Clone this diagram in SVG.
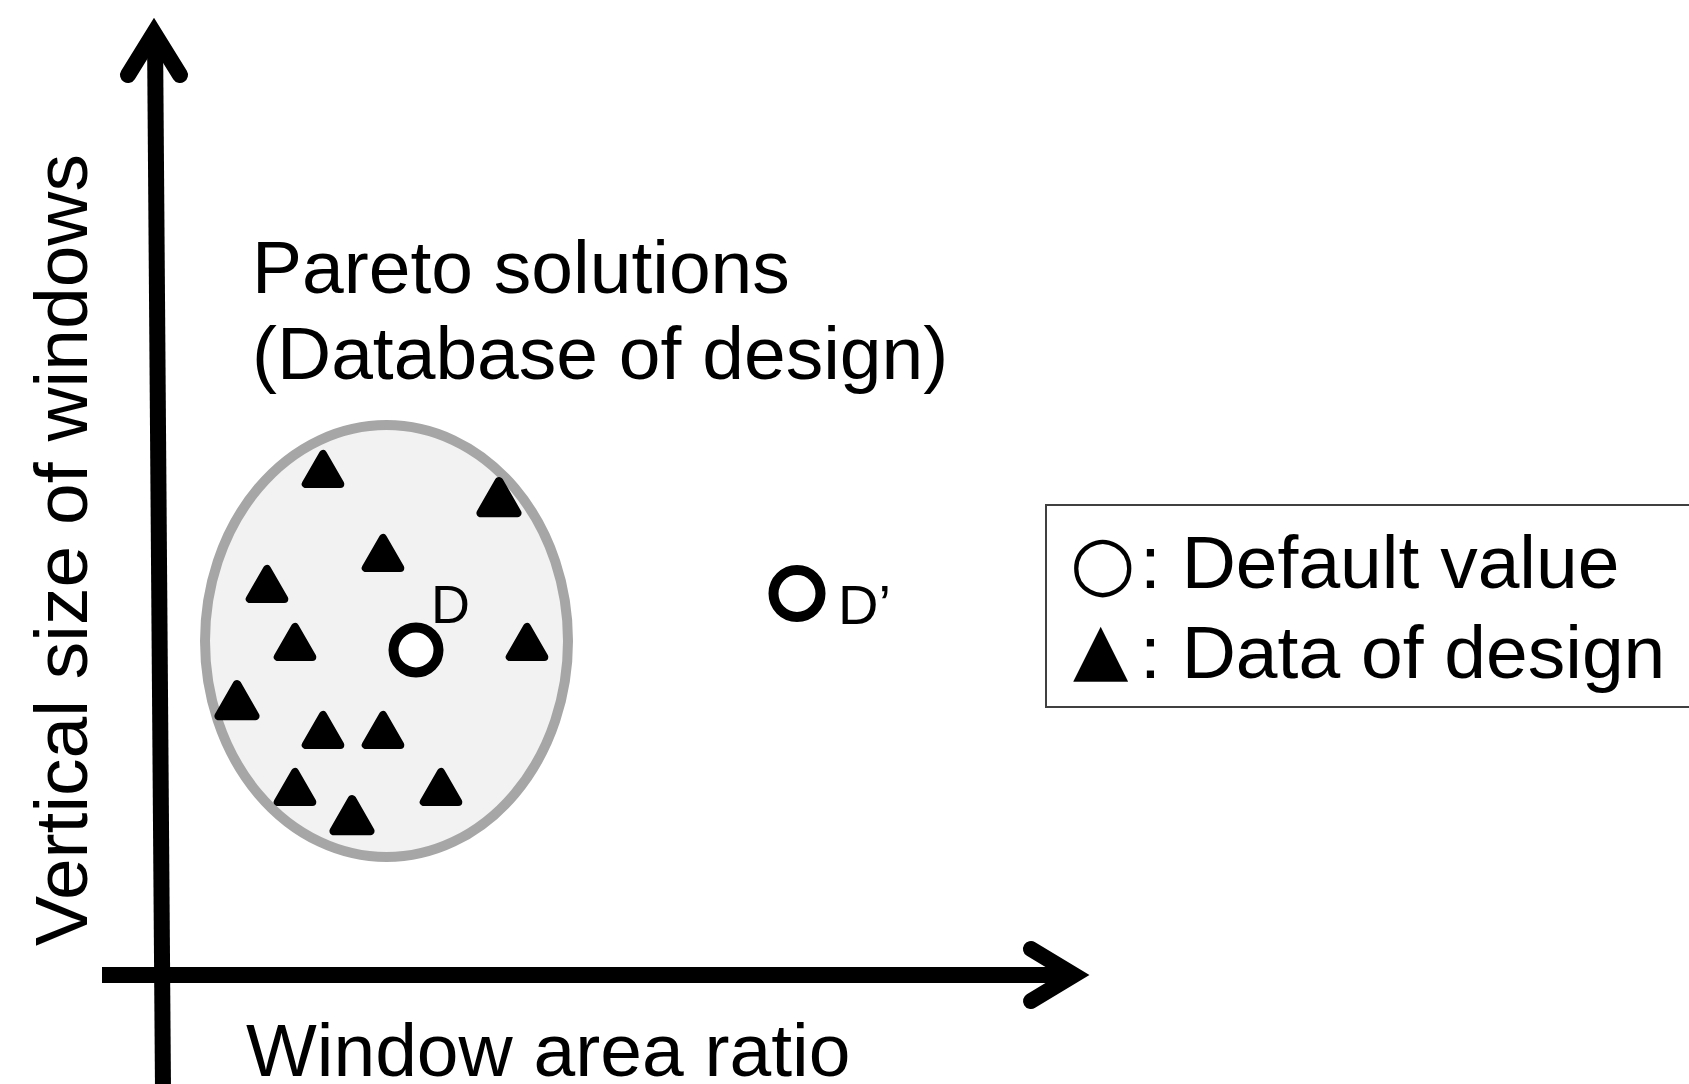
<svg xmlns="http://www.w3.org/2000/svg" width="1689" height="1084" viewBox="0 0 1689 1084">
  <style>
    .t { font-family: "Liberation Sans", Arial, sans-serif; font-size: 75px; fill: #000; }
    .sym { font-family: "DejaVu Sans", sans-serif; fill: #000; }
    .axis { fill: none; stroke: #000; stroke-width: 16; }
    .head { fill: none; stroke: #000; stroke-width: 16; stroke-linejoin: miter; stroke-miterlimit: 10; stroke-linecap: round; }
    .tri { fill: #000; stroke: #000; stroke-width: 8; stroke-linejoin: round; }
    .mark { fill: #fff; stroke: #000; stroke-width: 10; }
  </style>
  <defs>
    <polygon id="tri" class="tri" points="0,4 -17.3,34 17.3,34"/>
  </defs>
  <rect width="1689" height="1084" fill="#fff"/>

  <g id="connectors">
    <path class="axis" d="M 155 33 L 163 1090"/>
    <polyline class="head" points="128,75 154,33 180,75"/>
    <path class="axis" d="M 102 975 L 1076 975"/>
    <polyline class="head" points="1031,949 1074,975 1031,1001"/>
  </g>

  <g id="y-axis-label">
    <text class="t" transform="translate(87,946) rotate(-90)">Vertical size of windows</text>
  </g>
  <g id="x-axis-label">
    <text class="t" x="246" y="1076">Window area ratio</text>
  </g>
  <g id="pareto-label">
    <text class="t" x="252" y="293">Pareto solutions</text>
    <text class="t" x="252" y="379">(Database of design)</text>
  </g>

  <g id="pareto-set">
    <ellipse cx="386.5" cy="641" rx="181.5" ry="216" fill="#f2f2f2" stroke="#a6a6a6" stroke-width="10"/>
    <use href="#tri" transform="translate(323,450)"/>
    <use href="#tri" transform="translate(499,477) scale(1.06)"/>
    <use href="#tri" transform="translate(383,534)"/>
    <use href="#tri" transform="translate(267,565)"/>
    <use href="#tri" transform="translate(295,623)"/>
    <use href="#tri" transform="translate(527,623)"/>
    <use href="#tri" transform="translate(237,680) scale(1.06)"/>
    <use href="#tri" transform="translate(323,711)"/>
    <use href="#tri" transform="translate(383,711)"/>
    <use href="#tri" transform="translate(295,768)"/>
    <use href="#tri" transform="translate(441,768)"/>
    <use href="#tri" transform="translate(352,795) scale(1.06)"/>
  </g>

  <g id="default-D">
    <circle class="mark" cx="416" cy="650" r="22.5"/>
    <text class="t" x="431" y="623" style="font-size:54px">D</text>
  </g>

  <g id="default-D-prime">
    <circle class="mark" cx="797" cy="593.5" r="23.5"/>
    <text class="t" x="838" y="624" style="font-size:56px">D’</text>
  </g>

  <g id="legend">
    <rect x="1046" y="505" width="700" height="202" fill="#fff" stroke="#404040" stroke-width="2"/>
    <text class="sym" x="1070" y="588" style="font-size:75px">○</text>
    <text class="t" x="1140" y="588">: Default value</text>
    <text class="sym" x="1073" y="673" style="font-size:72px">▲</text>
    <text class="t" x="1140" y="678">: Data of design</text>
  </g>
</svg>
